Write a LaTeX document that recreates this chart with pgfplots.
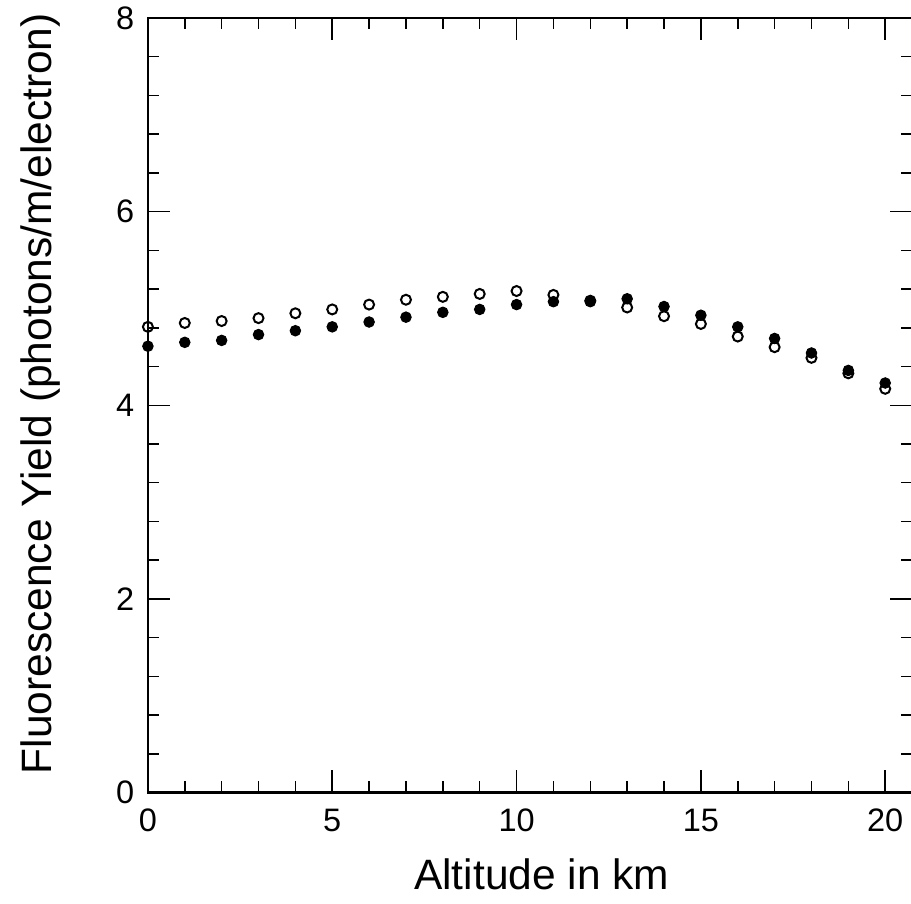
\documentclass[border=0pt]{standalone}
\usepackage{fontspec}
\setmainfont{Liberation Sans}
\usepackage{pgfplots}
\pgfplotsset{compat=1.18}

\begin{document}
\begin{tikzpicture}
\begin{axis}[
  scale only axis,
  width=306pt, height=310pt,
  xmin=0, xmax=20.74,
  ymin=0, ymax=8,
  xtick={0,5,10,15,20},
  ytick={0,2,4,6,8},
  minor x tick num=4,
  minor y tick num=4,
  major tick length=9pt,
  minor tick length=4.5pt,
  tick style={black, line width=0.6pt},
  axis line style={line width=0.9pt},
  tick align=inside,
  clip=false,
  /pgf/number format/assume math mode=true,
  ticklabel style={font=\fontsize{13}{15}\selectfont},
  xticklabel style={yshift=-3pt},
  yticklabel style={xshift=-2pt},
  xlabel={Altitude in km},
  ylabel={Fluorescence Yield (photons/m/electron)},
  label style={font=\fontsize{17}{20}\selectfont},
  xlabel style={at={(axis description cs:0.515,-0.106)}, anchor=center},
  ylabel style={at={(axis description cs:-0.141,0.515)}, anchor=center},
  ]

  % open circles
  \addplot[only marks, mark=o, mark size=2pt, mark options={line width=0.8pt, black}]
  coordinates {
    (0,4.81) (1,4.85) (2,4.87) (3,4.90) (4,4.95) (5,4.99) (6,5.04) (7,5.09)
    (8,5.12) (9,5.15) (10,5.18) (11,5.14) (12,5.08) (13,5.01) (14,4.92)
    (15,4.84) (16,4.71) (17,4.60) (18,4.49) (19,4.33) (20,4.17)
  };
  % filled circles
  \addplot[only marks, mark=*, mark size=2.1pt, black]
  coordinates {
    (0,4.61) (1,4.65) (2,4.67) (3,4.73) (4,4.77) (5,4.81) (6,4.86) (7,4.91)
    (8,4.96) (9,4.99) (10,5.04) (11,5.07) (12,5.07) (13,5.10) (14,5.02)
    (15,4.93) (16,4.81) (17,4.69) (18,4.54) (19,4.36) (20,4.23)
  };

\end{axis}
\pgfresetboundingbox
\path[use as bounding box] ([xshift=-59.2pt,yshift=-44.4pt]current axis.south west)
  rectangle ([xshift=-0.6pt,yshift=7.2pt]current axis.north east);
\end{tikzpicture}
\end{document}
